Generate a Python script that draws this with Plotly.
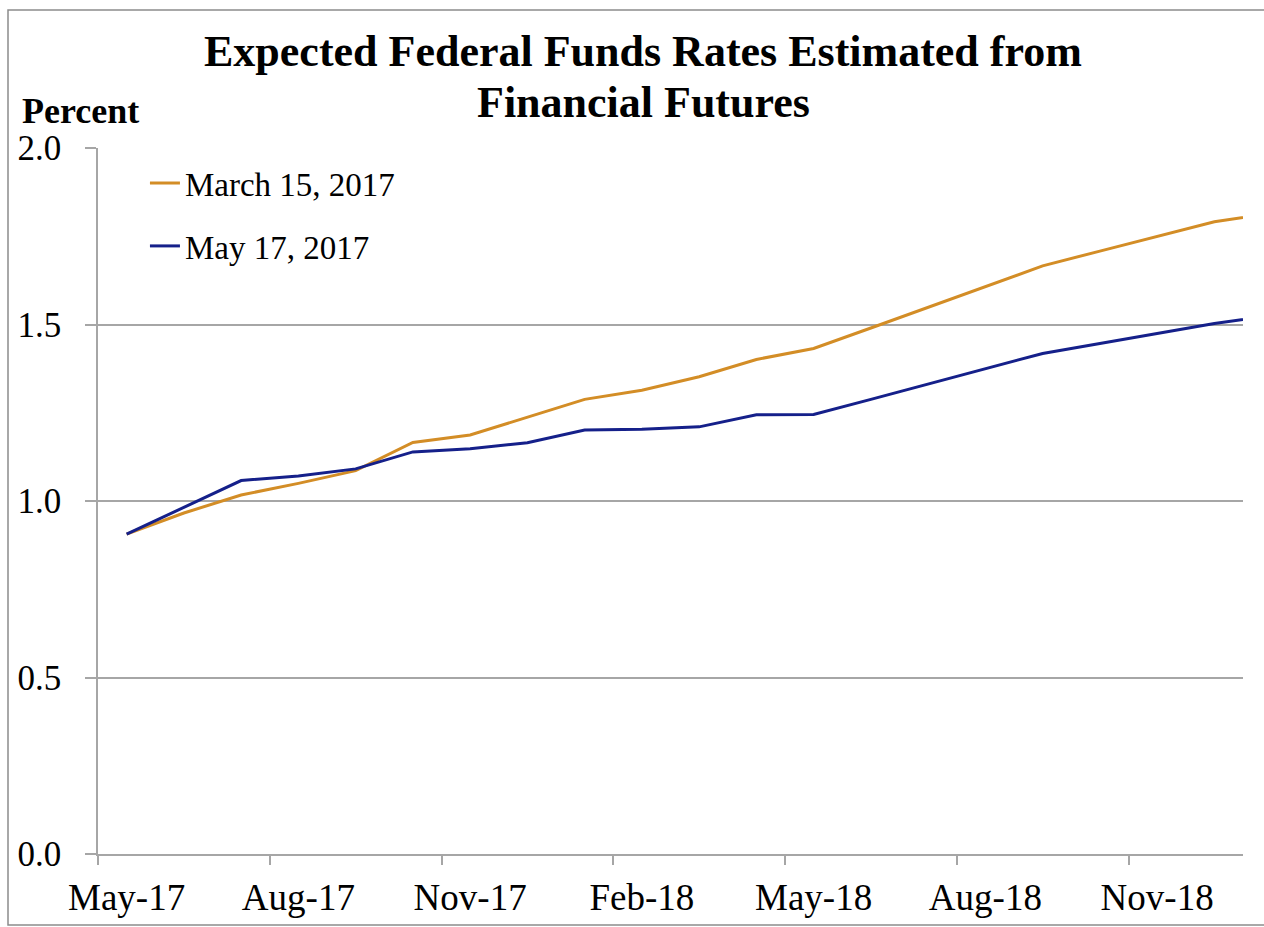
import plotly.graph_objects as go

months = ["May-17", "Jun-17", "Jul-17", "Aug-17", "Sep-17", "Oct-17", "Nov-17",
          "Dec-17", "Jan-18", "Feb-18", "Mar-18", "Apr-18", "May-18", "Jun-18",
          "Jul-18", "Aug-18", "Sep-18", "Oct-18", "Nov-18", "Dec-18", "Jan-19"]
march_15_2017 = [0.906, 0.966, 1.017, 1.050, 1.086, 1.166, 1.187, 1.237, 1.288, 1.314,
                 1.352, 1.401, 1.432, 1.490, 1.549, 1.607, 1.666, 1.708, 1.750, 1.791, 1.815]
may_17_2017 = [0.906, 0.983, 1.058, 1.071, 1.091, 1.139, 1.148, 1.165, 1.201, 1.203,
               1.210, 1.244, 1.245, 1.288, 1.331, 1.375, 1.418, 1.446, 1.475, 1.503, 1.525]
y_ticks = [0.0, 0.5, 1.0, 1.5, 2.0]
title_lines = ["Expected Federal Funds Rates Estimated from", "Financial Futures"]

FONT = "Liberation Serif, Times New Roman, serif"
x_idx = list(range(len(months)))
label_idx = x_idx[::3][:7]
label_txt = [months[i] for i in label_idx]
boundary_ticks = [i - 0.5 for i in label_idx]

fig = go.Figure()
fig.add_trace(go.Scatter(x=x_idx, y=march_15_2017, mode="lines", name="March 15, 2017",
                         line=dict(color="#D38D26", width=3), legendgroup="a"))
fig.add_trace(go.Scatter(x=x_idx, y=may_17_2017, mode="lines", name="May 17, 2017",
                         line=dict(color="#15208A", width=3), legendgroup="b"))

fig.update_layout(
    width=1264, height=927,
    margin=dict(l=98, r=21, t=148, b=73),
    paper_bgcolor="white", plot_bgcolor="white",
    font=dict(family=FONT, color="black"),
    showlegend=True,
    legend=dict(x=0.041, y=0.990, xanchor="left", yanchor="top",
                bgcolor="rgba(0,0,0,0)", font=dict(size=33, family=FONT),
                tracegroupgap=17, itemclick=False),
    xaxis=dict(range=[-0.5, 19.5], tickmode="array", tickvals=label_idx, ticktext=label_txt,
               ticks="outside", ticklen=0, tickfont=dict(size=37, family=FONT),
               ticklabelstandoff=10, automargin=False,
               showgrid=False, zeroline=False, showline=True, linecolor="#a6a6a6", linewidth=1.5,
               minor=dict(tickmode="array", tickvals=boundary_ticks, ticks="outside",
                          ticklen=9, tickcolor="#a6a6a6", tickwidth=1.5, showgrid=False)),
    yaxis=dict(range=[0, 2], tickmode="array", tickvals=y_ticks, tickformat=".1f",
               ticks="outside", ticklen=11, tickcolor="#a6a6a6", tickwidth=1.5,
               tickfont=dict(size=35, family=FONT), ticklabelstandoff=17, automargin=False,
               showgrid=True, gridcolor="#a6a6a6", gridwidth=1.5,
               zeroline=False, showline=True, linecolor="#a6a6a6", linewidth=1.5),
)

# title (two lines placed separately to match line spacing)
for line, top_px in zip(title_lines, [25, 76]):
    fig.add_annotation(text="<b>" + line + "</b>",
                       xref="paper", yref="paper",
                       x=(643 - 98) / 1145, y=(854 - top_px) / 706,
                       xanchor="center", yanchor="top", showarrow=False,
                       font=dict(size=44, family=FONT, color="black"))

fig.add_annotation(text="<b>Percent</b>", xref="paper", yref="paper",
                   x=(20 - 98) / 1145, y=(854 - 89) / 706, xanchor="left", yanchor="top",
                   showarrow=False, font=dict(size=36, family=FONT, color="black"))

# outer chart frame
fig.add_shape(type="rect", xref="paper", yref="paper",
              x0=(8 - 98) / 1145, x1=(1275 - 98) / 1145,
              y0=(854 - 925) / 706, y1=(854 - 10) / 706,
              line=dict(color="#8c8c8c", width=1.5), fillcolor="rgba(0,0,0,0)", layer="below")

fig.write_html("out.html")
